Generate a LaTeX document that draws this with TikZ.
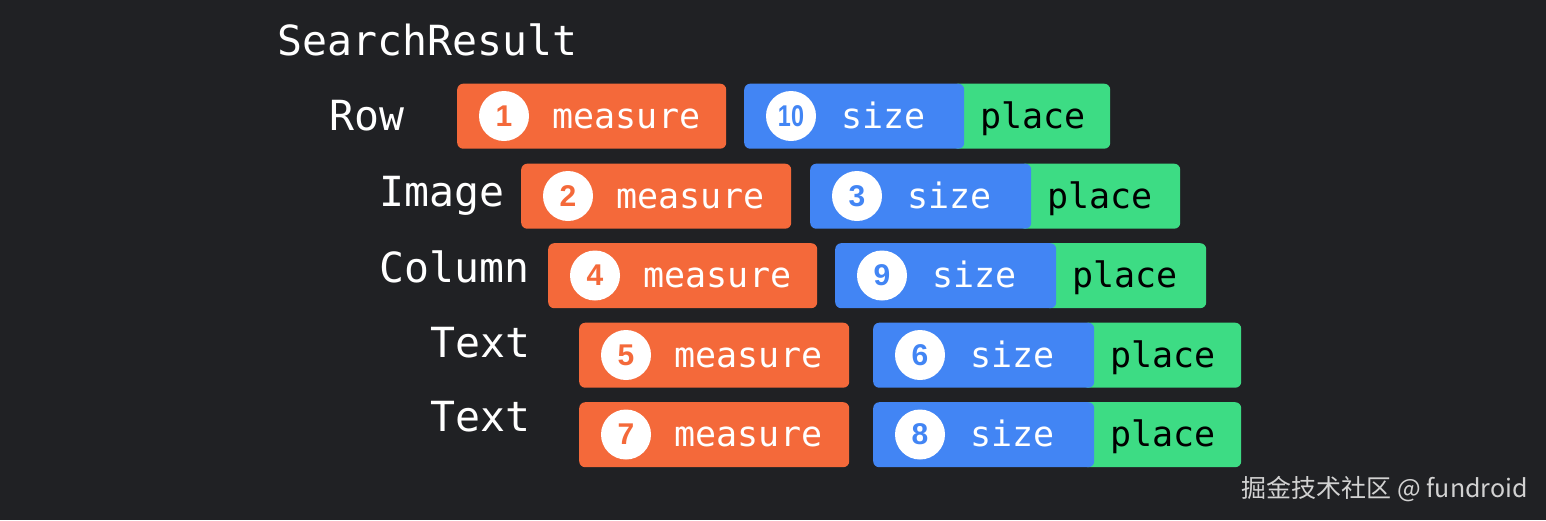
\documentclass[tikz,border=0pt]{standalone}
\usepackage{fontspec}
\setmonofont{DejaVu Sans Mono}
\newfontfamily\cjkfont{Noto Sans CJK SC}
\newfontfamily\digitfont{Liberation Sans}
\definecolor{bg}{HTML}{202124}
\definecolor{mor}{HTML}{F4693A}
\definecolor{mbl}{HTML}{4285F4}
\definecolor{mgr}{HTML}{3DDC84}
\definecolor{wm}{HTML}{D2D2D2}
\begin{document}
\begin{tikzpicture}[x=1pt,y=-1pt,
  boxbase/.style={rectangle,rounded corners=6pt,minimum height=65pt,inner sep=0pt,anchor=north west,draw=none},
  obox/.style={boxbase,fill=mor},
  bbox/.style={boxbase,fill=mbl},
  gbox/.style={boxbase,fill=mgr},
  circ/.style={circle,fill=white,minimum size=50pt,inner sep=0pt,font=\digitfont\bfseries\fontsize{30}{30}\selectfont},
  boxtxt/.style={inner sep=0pt,anchor=base west,font=\ttfamily\fontsize{35}{35}\selectfont},
  lbl/.style={inner sep=0pt,anchor=base west,text=white,font=\ttfamily\fontsize{41.5}{41.5}\selectfont}]
\fill[bg] (0,0) rectangle (1546,520);
\useasboundingbox (0,0) rectangle (1546,520);

\node[lbl] (sr) at (277,55) {SearchResult};
\node[lbl] (lrow) at (329,130) {Row};
\node[lbl] (limg) at (379,206) {Image};
\node[lbl] (lcol) at (379,282) {Column};
\node[lbl] (ltxa) at (430,357) {Text};
\node[lbl] (ltxb) at (430,431) {Text};

\foreach \n/\ox/\oxe/\bx/\bxe/\gxe/\yt/\dm/\ds in {
  1/457/726/744/964/1110/83.5/1/\scalebox{0.78}[1]{10},
  2/521/791/810/1031/1180/163.5/2/3,
  3/548/817/835/1056/1206/243/4/9,
  4/579/849/873/1094/1241/322.5/5/6,
  5/579/849/873/1094/1241/402/7/8}{
  \pgfmathsetmacro\ow{\oxe-\ox}
  \pgfmathsetmacro\bw{\bxe-\bx}
  \pgfmathsetmacro\gw{\gxe-\bxe+12}
  \node[gbox,minimum width=\gw pt] (g\n) at (\bxe-12,\yt) {};
  \node[bbox,minimum width=\bw pt] (b\n) at (\bx,\yt) {};
  \node[obox,minimum width=\ow pt] (o\n) at (\ox,\yt) {};
  \node[circ,text=mor] (co\n) at (\ox+47,\yt+32.5) {\dm};
  \node[circ,text=mbl] (cb\n) at (\bx+47,\yt+32.5) {\ds};
  \node[boxtxt,text=white] (tm\n) at (\ox+95.5,\yt+44.5) {measure};
  \node[boxtxt,text=white] (ts\n) at (\bx+97,\yt+44.5) {size};
  \node[boxtxt,text=black] (tp\n) at (\bxe+16,\yt+44.5) {place};
}

\node[inner sep=0pt,anchor=base east,text=wm,font=\cjkfont\fontsize{25}{25}\selectfont] (wmk) at (1528,497) {掘金技术社区 @ fundroid};
\end{tikzpicture}
\end{document}
